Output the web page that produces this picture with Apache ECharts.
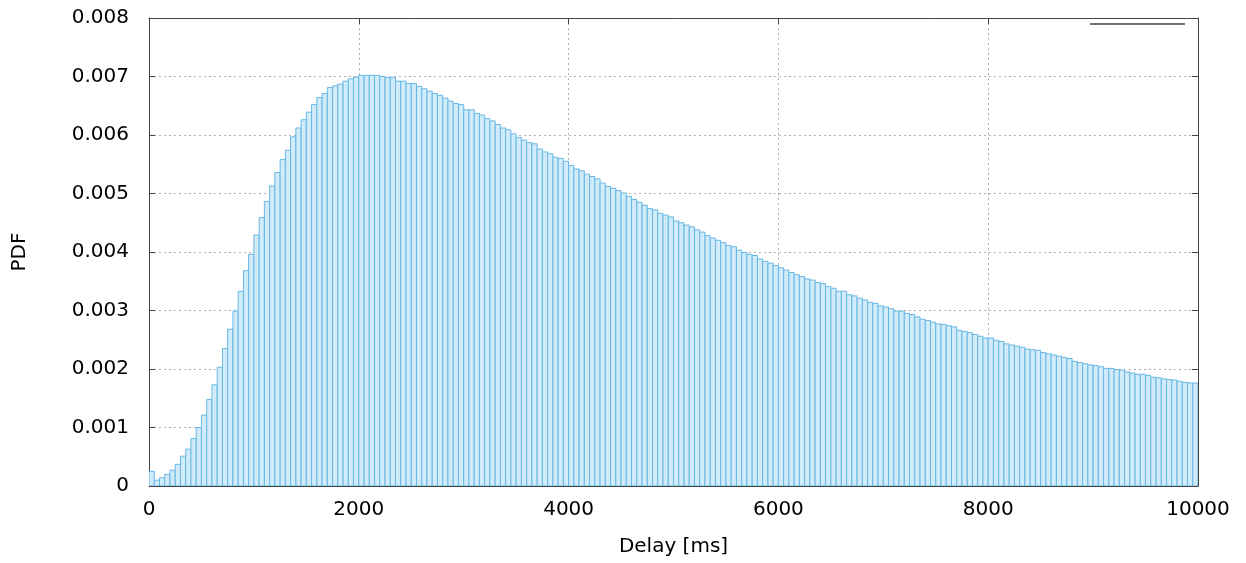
<!DOCTYPE html>
<html>
<head>
<meta charset="utf-8">
<script src="https://cdn.jsdelivr.net/npm/echarts@6/dist/echarts.min.js"></script>
<style>
html,body{margin:0;padding:0;background:#fff;}
#chart{width:1246px;height:563px;}
</style>
</head>
<body>
<div id="chart"></div>
<script>
// Histogram: bin width in ms
const binWidth = 50;
// PDF value per bin (bins start at 0 ms, 200 bins up to 10000 ms)
const pdfValues = [
  0.00025, 0.0001, 0.00014, 0.0002, 0.00027, 0.00037, 0.00051, 0.00063, 0.00081, 0.001,
  0.00121, 0.00148, 0.00173, 0.00203, 0.00235, 0.00268, 0.00299, 0.00333, 0.00368, 0.00396,
  0.00429, 0.00459, 0.00486, 0.00513, 0.00536, 0.00558, 0.00574, 0.00597, 0.00612, 0.00626,
  0.00639, 0.00652, 0.00664, 0.00671, 0.00681, 0.00684, 0.00687, 0.00692, 0.00696, 0.00699,
  0.00702, 0.00702, 0.00702, 0.00702, 0.007, 0.00698, 0.00698, 0.00692, 0.00692, 0.00688,
  0.00688, 0.00683, 0.00679, 0.00675, 0.00671, 0.00668, 0.00663, 0.00658, 0.00654, 0.00652,
  0.00643, 0.00643, 0.00637, 0.00634, 0.00628, 0.00624, 0.00618, 0.00612, 0.00609, 0.00602,
  0.00596, 0.00591, 0.00587, 0.00585, 0.00576, 0.00571, 0.00568, 0.00562, 0.0056, 0.00555,
  0.00548, 0.00542, 0.00539, 0.00533, 0.00529, 0.00525, 0.00518, 0.00512, 0.00509, 0.00505,
  0.00501, 0.00495, 0.0049, 0.00485, 0.0048, 0.00474, 0.00472, 0.00466, 0.00463, 0.0046,
  0.00453, 0.0045, 0.00446, 0.00443, 0.00438, 0.00434, 0.00428, 0.00424, 0.0042, 0.00416,
  0.00411, 0.00409, 0.00403, 0.00399, 0.00396, 0.00394, 0.00388, 0.00384, 0.00381, 0.00377,
  0.00373, 0.00369, 0.00365, 0.00361, 0.00358, 0.00354, 0.00352, 0.00348, 0.00346, 0.00341,
  0.00338, 0.00333, 0.00333, 0.00327, 0.00325, 0.00321, 0.00318, 0.00314, 0.00312, 0.00308,
  0.00306, 0.00303, 0.00299, 0.00299, 0.00295, 0.00293, 0.00289, 0.00285, 0.00283, 0.0028,
  0.00277, 0.00276, 0.00274, 0.00272, 0.00266, 0.00264, 0.00262, 0.00259, 0.00256, 0.00253,
  0.00253, 0.00249, 0.00247, 0.00243, 0.00241, 0.00239, 0.00237, 0.00234, 0.00233, 0.00232,
  0.00228, 0.00226, 0.00224, 0.00222, 0.0022, 0.00218, 0.00213, 0.00211, 0.00209, 0.00207,
  0.00206, 0.00204, 0.00201, 0.00201, 0.00199, 0.00198, 0.00195, 0.00193, 0.00191, 0.00191,
  0.00189, 0.00186, 0.00185, 0.00183, 0.00182, 0.00181, 0.00179, 0.00177, 0.00176, 0.00176
];
const xRange = [0, 10000];
const xInterval = 2000;
const yRange = [0, 0.008];
const yInterval = 0.001;
const xTitle = 'Delay [ms]';
const yTitle = 'PDF';

const barData = pdfValues.map((v, i) => [i * binWidth, (i + 1) * binWidth, v]);

const FONT = 'DejaVu Sans';
const FONT_SIZE = 20;
const TEXT_COLOR = '#000';
const AXIS_COLOR = '#444';
const GRID_COLOR = '#b0b0b0';

const chart = echarts.init(document.getElementById('chart'), null, {renderer: 'canvas'});

const baseTick = {show: true, inside: true, length: 6, lineStyle: {color: AXIS_COLOR, width: 1}};
const axisLine = {show: true, onZero: false, lineStyle: {color: AXIS_COLOR, width: 1}};
const splitLine = {show: true, lineStyle: {color: GRID_COLOR, width: 1, type: [2, 3]}};

chart.setOption({
  animation: false,
  backgroundColor: '#fff',
  grid: {left: 149, right: 48, top: 18, bottom: 77, containLabel: false},
  xAxis: [
    {
      type: 'value', min: xRange[0], max: xRange[1], interval: xInterval,
      position: 'bottom',
      name: xTitle, nameLocation: 'middle', nameGap: 51,
      nameTextStyle: {fontFamily: FONT, fontSize: FONT_SIZE, color: TEXT_COLOR},
      axisLine: axisLine, axisTick: baseTick,
      axisLabel: {fontFamily: FONT, fontSize: FONT_SIZE, color: TEXT_COLOR, margin: 14,
        formatter: v => String(v)},
      splitLine: splitLine
    },
    {
      type: 'value', min: xRange[0], max: xRange[1], interval: xInterval,
      position: 'top',
      axisLine: axisLine, axisTick: baseTick,
      axisLabel: {show: false}, splitLine: {show: false}
    }
  ],
  yAxis: [
    {
      type: 'value', min: yRange[0], max: yRange[1], interval: yInterval,
      position: 'left',
      name: yTitle, nameLocation: 'middle', nameGap: 119, nameRotate: 90,
      nameTextStyle: {fontFamily: FONT, fontSize: FONT_SIZE, color: TEXT_COLOR},
      axisLine: axisLine, axisTick: baseTick,
      axisLabel: {fontFamily: FONT, fontSize: FONT_SIZE, color: TEXT_COLOR, margin: 20,
        formatter: v => String(+v.toFixed(3))},
      splitLine: splitLine
    },
    {
      type: 'value', min: yRange[0], max: yRange[1], interval: yInterval,
      position: 'right',
      axisLine: axisLine, axisTick: baseTick,
      axisLabel: {show: false}, splitLine: {show: false}
    }
  ],
  graphic: [
    {
      type: 'line', z: 100,
      shape: {x1: 1090, y1: 24, x2: 1185, y2: 24},
      style: {stroke: '#444', lineWidth: 1.5}
    }
  ],
  series: [
    {
      type: 'custom',
      xAxisIndex: 0, yAxisIndex: 0,
      data: barData,
      encode: {x: [0, 1], y: 2},
      clip: true,
      renderItem: function (params, api) {
        const p0 = api.coord([api.value(0), api.value(2)]);
        const p1 = api.coord([api.value(1), 0]);
        return {
          type: 'rect',
          shape: {x: p0[0], y: p0[1], width: p1[0] - p0[0], height: p1[1] - p0[1]},
          style: {fill: '#d2ebf8', stroke: '#66b8e5', lineWidth: 1}
        };
      }
    }
  ]
});
</script>
</body>
</html>
